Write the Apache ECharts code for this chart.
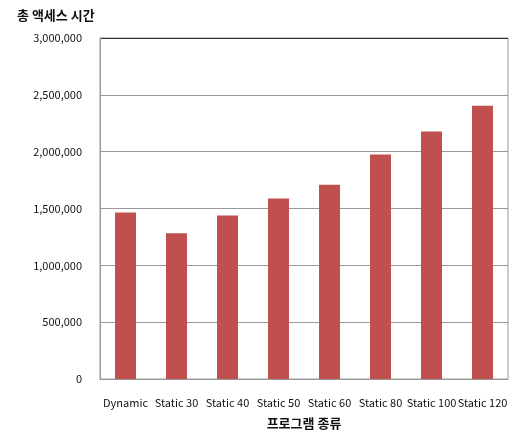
<!DOCTYPE html>
<html>
<head>
<meta charset="utf-8">
<script src="https://cdn.jsdelivr.net/npm/echarts@6/dist/echarts.min.js"></script>
<style>
  html, body { margin: 0; padding: 0; background: #fff; overflow: hidden; }
  #chart { width: 512px; height: 435px; }
</style>
</head>
<body>
<div id="chart"></div>
<script>
// Program types on the x axis
var categories = ['Dynamic', 'Static 30', 'Static 40', 'Static 50', 'Static 60', 'Static 80', 'Static 100', 'Static 120'];
// Total access time per program type
var accessTime = [1465000, 1283000, 1439000, 1588000, 1708000, 1976000, 2178000, 2404000];
// Value axis range
var yMin = 0;
var yMax = 3000000;
var yStep = 500000;

var FONT = '"Noto Sans CJK KR", "Noto Sans", sans-serif';

var chart = echarts.init(document.getElementById('chart'), null, { renderer: 'canvas', width: 512, height: 435 });

chart.setOption({
  animation: false,
  textStyle: { fontFamily: FONT },
  title: {
    text: '총 액세스 시간',
    left: 12,
    top: 4,
    textStyle: { fontFamily: FONT, fontSize: 13, fontWeight: 'bold', color: '#111' }
  },
  grid: {
    left: 100,
    right: 4,
    top: 38,
    bottom: 55,
    show: true,
    borderColor: '#999',
    borderWidth: 1,
    containLabel: false
  },
  xAxis: {
    type: 'category',
    data: categories,
    name: '프로그램 종류',
    nameLocation: 'middle',
    nameGap: 38,
    nameTextStyle: { fontFamily: FONT, fontSize: 13, fontWeight: 'bold', color: '#111' },
    axisLine: { show: true, lineStyle: { color: '#999' } },
    axisTick: { show: false },
    axisLabel: { interval: 0, margin: 18, fontSize: 11, color: '#111', fontFamily: FONT }
  },
  yAxis: {
    type: 'value',
    min: yMin,
    max: yMax,
    interval: yStep,
    axisLine: { show: true, lineStyle: { color: '#999' } },
    axisTick: { show: false },
    axisLabel: {
      margin: 18,
      fontSize: 11,
      color: '#111',
      fontFamily: FONT,
      formatter: function (v) { return v.toLocaleString('en-US'); }
    },
    splitLine: {
      show: true,
      lineStyle: { color: ['#999', '#999', '#999', '#999', '#999', '#999', '#333'], width: 1 }
    }
  },
  series: [{
    type: 'bar',
    data: accessTime,
    barWidth: 21,
    itemStyle: { color: '#C0504D' }
  }]
});
</script>
</body>
</html>
